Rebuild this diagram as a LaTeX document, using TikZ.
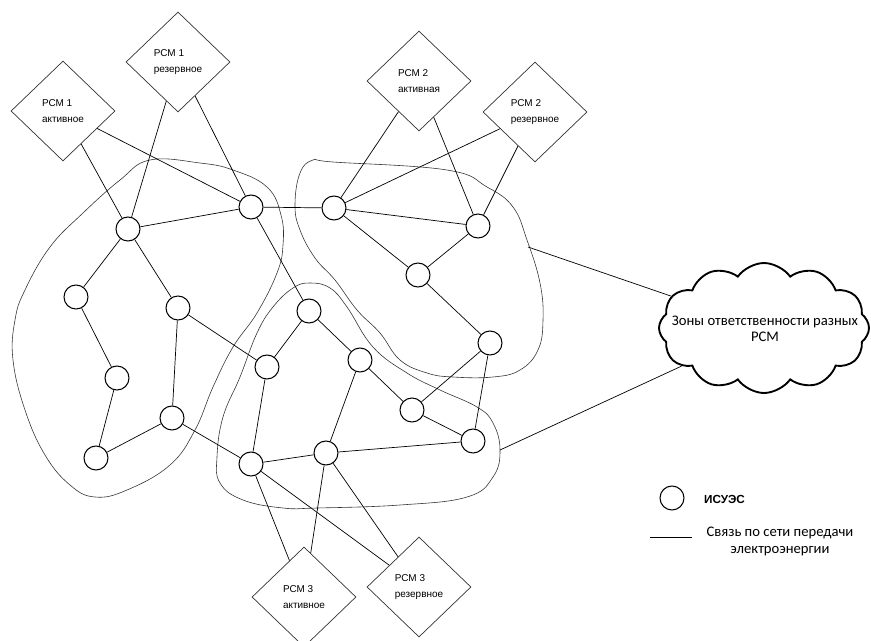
\documentclass[tikz,border=0pt]{standalone}
\usepackage{fontspec}
\setmainfont{Carlito}
\newfontfamily\arialf{Liberation Sans}
\usetikzlibrary{shapes.geometric,shapes.symbols}

\begin{document}
\begin{tikzpicture}[x=0.03cm, y=-0.03cm,
  isues/.style={draw, circle, line width=0.9pt, minimum size=0.72cm, inner sep=0pt},
  pcm/.style={draw=black!80, diamond, line width=0.6pt, minimum width=3.12cm, minimum height=3cm, inner sep=0pt, align=left, font=\arialf\fontsize{8.5}{13}\selectfont},
  link/.style={line width=0.6pt},
  zone/.style={line width=0.5pt, draw=black!80}]
\useasboundingbox (0,0) rectangle (871,640);

\node[pcm] (p1a) at (63,111) {РСМ 1\\активное};
\node[pcm] (p1r) at (178,62) {РСМ 1\\резервное};
\node[pcm] (p2a) at (419,81) {РСМ 2\\активная};
\node[pcm] (p2r) at (535,112) {РСМ 2\\резервное};
\node[pcm] (p3a) at (304,597) {РСМ 3\\активное};
\node[pcm] (p3r) at (419,587) {РСМ 3\\резервное};

\draw[zone] plot[smooth cycle, tension=0.7] coordinates {(150,160) (200,163) (233,170) (267,187) (281,215) (283,245) (277,273) (257,313) (233,347) (213,387) (195,430) (170,465) (127,490) (95,497) (70,485) (45,455) (25,410) (13,360) (15,320) (25,290) (50,247) (83,213) (120,180)};
\draw[zone] plot[smooth cycle, tension=0.7] coordinates {(313,160) (333,162) (447,170) (487,187) (513,207) (527,240) (540,283) (543,320) (538,350) (520,370) (493,377) (453,377) (427,373) (400,360) (380,333) (357,310) (335,280) (315,258) (300,230) (295,205) (300,173)};
\draw[zone] plot[smooth cycle, tension=0.7] coordinates {(310,283) (330,288) (347,307) (373,347) (407,373) (440,390) (477,407) (493,423) (500,450) (493,477) (467,497) (400,505) (317,508) (283,508) (243,500) (220,483) (217,457) (223,417) (240,377) (257,333) (273,307) (293,288)};

\node[isues] (a) at (128,229) {};
\node[isues] (b) at (251,207) {};
\node[isues] (c) at (334,208) {};
\node[isues] (d) at (478,226) {};
\node[isues] (e) at (76,297) {};
\node[isues] (f) at (178,308) {};
\node[isues] (g) at (117,378) {};
\node[isues] (h) at (172,418) {};
\node[isues] (i) at (96,458) {};
\node[isues] (j) at (267,367) {};
\node[isues] (k) at (251,464) {};
\node[isues] (l) at (418,275) {};
\node[isues] (m) at (490,343) {};
\node[isues] (n) at (309,311) {};
\node[isues] (o) at (360,360) {};
\node[isues] (p) at (412,410) {};
\node[isues] (q) at (473,441) {};
\node[isues] (r) at (326,453) {};

\draw[link] (p1a) -- (a);
\draw[link] (p1a) -- (b);
\draw[link] (p1r) -- (a);
\draw[link] (p1r) -- (b);
\draw[link] (p2a) -- (c);
\draw[link] (p2a) -- (d);
\draw[link] (p2r) -- (c);
\draw[link] (p2r) -- (d);
\draw[link] (a) -- (b);
\draw[link] (b) -- (c);
\draw[link] (c) -- (d);
\draw[link] (c) -- (l);
\draw[link] (d) -- (l);
\draw[link] (l) -- (m);
\draw[link] (m) -- (p);
\draw[link] (m) -- (q);
\draw[link] (o) -- (p);
\draw[link] (p) -- (q);
\draw[link] (o) -- (r);
\draw[link] (r) -- (q);
\draw[link] (r) -- (k);
\draw[link] (n) -- (j);
\draw[link] (n) -- (o);
\draw[link] (b) -- (n);
\draw[link] (a) -- (e);
\draw[link] (a) -- (f);
\draw[link] (e) -- (g);
\draw[link] (g) -- (i);
\draw[link] (i) -- (h);
\draw[link] (h) -- (f);
\draw[link] (f) -- (j);
\draw[link] (h) -- (k);
\draw[link] (j) -- (k);
\draw[link] (k) -- (p3a);
\draw[link] (k) -- (p3r);
\draw[link] (r) -- (p3a);
\draw[link] (r) -- (p3r);

\node[cloud, draw, line width=1.6pt, cloud puffs=12, cloud puff arc=110, cloud ignores aspect, minimum width=6.3cm, minimum height=3.9cm, inner sep=0pt] (zones) at (764,328) {};
\node[align=center, font=\fontsize{12.5}{14}\selectfont] (zonestxt) at (765,329) {Зоны ответственности разных\\РСМ};
\coordinate (z2out) at (528,247);
\coordinate (z3out) at (500,450);
\draw[link] (z2out) -- (zones);
\draw[link] (z3out) -- (zones);

\node[isues] (legcirc) at (672,498) {};
\node[anchor=west, font=\arialf\bfseries\fontsize{10}{12}\selectfont] (legtxt) at (700,499) {ИСУЭС};
\coordinate (legA) at (650,537);
\coordinate (legB) at (692,537);
\draw[link] (legA) -- (legB);
\node[align=center, font=\fontsize{12.5}{14.5}\selectfont] (leglink) at (780,541) {Связь по сети передачи\\электроэнергии};
\end{tikzpicture}
\end{document}
